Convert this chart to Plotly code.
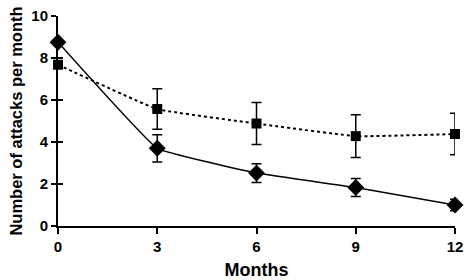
import plotly.graph_objects as go

months = [0, 3, 6, 9, 12]
diamond_vals = [8.75, 3.7, 2.52, 1.83, 1.0]
diamond_err = [0, 0.65, 0.45, 0.43, 0.27]
square_vals = [7.68, 5.57, 4.88, 4.28, 4.38]
square_err = [0, 0.96, 1.0, 1.02, 0.99]
x_ticks = [0, 3, 6, 9, 12]
y_ticks = [0, 2, 4, 6, 8, 10]

fam = "Liberation Sans, Arial, sans-serif"
fig = go.Figure()
fig.add_trace(go.Scatter(
    x=months, y=square_vals, mode="lines+markers",
    line=dict(color="black", width=2, dash="dot", shape="spline", smoothing=0.3),
    marker=dict(symbol="square", size=10, color="black"),
    error_y=dict(type="data", array=square_err, color="black", thickness=1.5, width=5),
    cliponaxis=False, showlegend=False))
fig.add_trace(go.Scatter(
    x=months, y=diamond_vals, mode="lines+markers",
    line=dict(color="black", width=1.5, shape="spline", smoothing=0.25),
    marker=dict(symbol="diamond", size=13, color="black"),
    error_y=dict(type="data", array=diamond_err, color="black", thickness=1.5, width=5),
    cliponaxis=False, showlegend=False))
fig.add_trace(go.Scatter(x=[None], y=[None], yaxis="y2", showlegend=False, hoverinfo="skip"))

fig.update_layout(
    width=466, height=280,
    margin=dict(l=58, r=11, t=16, b=54, autoexpand=False),
    plot_bgcolor="white", paper_bgcolor="white",
    font=dict(family=fam, color="black"),
    xaxis=dict(range=[0, 12], tickvals=x_ticks, ticks="outside", ticklen=6, tickwidth=2,
               tickcolor="black", showline=True, linecolor="black", linewidth=2,
               showgrid=False, zeroline=False, automargin=False, ticklabeloverflow="allow",
               tickfont=dict(size=15, weight="bold", family=fam),
               title=dict(text="<b>Months</b>", font=dict(size=18, family=fam), standoff=12)),
    yaxis=dict(range=[0, 10], tickvals=y_ticks, ticks="outside", ticklen=5, tickwidth=2,
               tickcolor="black", showline=True, linecolor="black", linewidth=2,
               showgrid=False, zeroline=False, automargin=False, ticklabeloverflow="allow",
               tickfont=dict(size=15, weight="bold", family=fam),
               title=dict(text="<b>Number of attacks per month</b>", font=dict(size=16.5, family=fam), standoff=5)),
    yaxis2=dict(range=[0, 10], tickvals=y_ticks, ticks="inside", ticklen=5, tickwidth=2,
                tickcolor="black", overlaying="y", side="left", showticklabels=False,
                showgrid=False, zeroline=False, showline=False, automargin=False),
)
fig.write_html("out.html", config={"displayModeBar": False},
               post_script="document.body.style.margin='0';")
